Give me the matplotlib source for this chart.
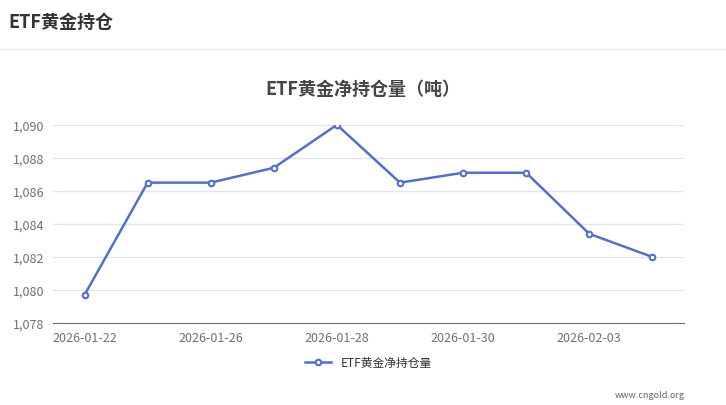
import matplotlib
matplotlib.use('Agg')
import matplotlib.pyplot as plt
from matplotlib.ticker import FuncFormatter

plt.rcParams['font.family'] = ['Noto Sans CJK SC', 'DejaVu Sans']

dates = ['2026-01-22', '2026-01-23', '2026-01-26', '2026-01-27', '2026-01-28',
         '2026-01-29', '2026-01-30', '2026-02-02', '2026-02-03', '2026-02-04']
holdings = [1079.7, 1086.5, 1086.5, 1087.4, 1090.0, 1086.5, 1087.1, 1087.1, 1083.4, 1082.0]

color = '#5470c6'
fig = plt.figure(figsize=(7.26, 4.06), dpi=100)
fig.text(0.012, 0.945, 'ETF黄金持仓', fontsize=13, fontweight='bold', color='#333333', va='center')
fig.add_artist(plt.Line2D([0, 1], [0.877, 0.877], color='#e8e8e8', lw=1))
fig.text(0.5, 0.78, 'ETF黄金净持仓量（吨）', fontsize=13, fontweight='bold', color='#464646', ha='center', va='center')
fig.text(0.943, 0.027, 'www.cngold.org', fontsize=6.5, color='#666666', ha='right', va='center')

ax = fig.add_axes([0.073, 0.202, 0.869, 0.488])
x = range(len(dates))
ax.plot(x, holdings, color=color, lw=1.8, marker='o', ms=4, mfc='white', mec=color, mew=1.5,
        label='ETF黄金净持仓量')
ax.set_xlim(-0.5, len(dates) - 0.5)
ax.set_ylim(1078, 1090)
ax.set_yticks(range(1078, 1091, 2))
ax.yaxis.set_major_formatter(FuncFormatter(lambda v, p: f'{int(v):,}'))
ax.set_xticks(list(x)[::2])
ax.set_xticklabels(dates[::2])
ax.grid(axis='y', color='#e0e6f1', lw=1)
ax.set_axisbelow(True)
for s in ['top', 'right', 'left']:
    ax.spines[s].set_visible(False)
ax.spines['bottom'].set_color('#6e7079')
ax.tick_params(axis='y', length=0, labelsize=9, labelcolor='#6e7079', pad=6)
ax.tick_params(axis='x', length=0, labelsize=9, labelcolor='#6e7079', pad=6)
ax.legend(loc='center', bbox_to_anchor=(0.5, -0.2), frameon=False, fontsize=8.5,
          handlelength=2.2, labelcolor='#333333')

fig.savefig('out.png', dpi=100)
